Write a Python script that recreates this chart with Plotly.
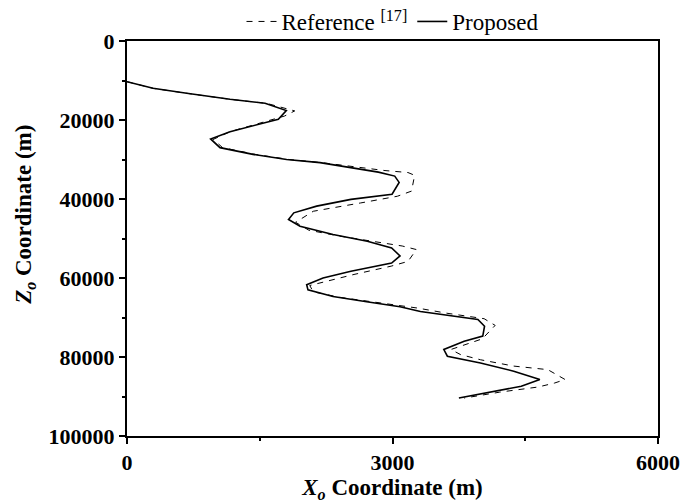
import plotly.graph_objects as go

# Proposed (solid) trajectory: X (m), Z (m)
prop_x = [0, 294, 675, 1164, 1560, 1800, 1710, 1164, 945, 1051, 1424, 1804, 2181,
          2530, 2840, 3025, 3075, 2995, 2530, 2143, 1885, 1825, 1955, 2328, 2715,
          2990, 3085, 2990, 2530, 2215, 2030, 2045, 2328, 2708, 3085, 3315, 3690,
          3965, 4040, 4020, 3810, 3580, 3620, 3994, 4370, 4665, 4455, 4070, 3750]
prop_z = [10300, 11980, 13240, 14760, 15780, 17600, 19800, 22960, 24800, 27000,
          28700, 30000, 30800, 32000, 33200, 34200, 35800, 38800, 40100, 41800,
          43500, 45200, 46900, 49000, 50700, 52400, 54400, 56200, 58300, 60000,
          61700, 63000, 64700, 66000, 67260, 68500, 69700, 70500, 72200, 74700,
          76000, 78100, 79800, 81500, 83600, 85700, 87400, 89100, 90400]

# Reference [17] (dashed) trajectory
ref_x = [0, 294, 675, 1164, 1580, 1895, 1780, 1164, 975, 1080, 1450, 1830, 2200,
         2610, 2915, 3175, 3250, 3215, 3055, 2640, 2105, 1905, 2055, 2405, 2815,
         3110, 3270, 3175, 2985, 2565, 2065, 2105, 2405, 2805, 3280, 3610, 4035,
         4160, 4015, 3660, 3770, 3995, 4370, 4755, 4950, 4830, 4645, 4210, 3810]
ref_z = [10300, 11980, 13240, 14760, 15800, 17700, 19000, 22960, 24900, 27000,
         28700, 30000, 30800, 32000, 32800, 33300, 34000, 38000, 39300, 41000,
         43100, 45900, 47900, 49400, 50900, 51900, 52800, 55800, 57000, 59100,
         61900, 63500, 64900, 66200, 67600, 68900, 70300, 72000, 75400, 78100,
         79400, 80700, 82300, 83200, 85700, 86600, 87600, 88900, 90400]

x_ticks = [0, 3000, 6000]
y_ticks = [0, 20000, 40000, 60000, 80000, 100000]

FONT = "Liberation Serif"
FS = 23

fig = go.Figure()
fig.add_trace(go.Scatter(
    x=ref_x, y=ref_z, mode="lines", name="Reference <sup>[17]</sup>",
    line=dict(color="black", width=1, dash="6px,6px")))
fig.add_trace(go.Scatter(
    x=prop_x, y=prop_z, mode="lines", name="Proposed",
    line=dict(color="black", width=1.6)))

axis_common = dict(
    showline=True, linecolor="black", linewidth=2, mirror=True,
    ticks="outside", ticklen=6, tickwidth=1.5, tickcolor="black",
    showgrid=False, zeroline=False,
    tickfont=dict(family=FONT, size=22, color="black", weight="bold"),
    minor=dict(ticks="outside", ticklen=3, tickwidth=1.5, tickcolor="black"),
    automargin=False,
)

fig.update_layout(
    width=683, height=504,
    margin=dict(l=127, r=25, t=41, b=68, autoexpand=False),
    paper_bgcolor="white", plot_bgcolor="white",
    font=dict(family=FONT, size=FS, color="black"),
    showlegend=True,
    legend=dict(orientation="h", x=0.5, xanchor="center",
                yref="container", y=1.0, yanchor="top",
                font=dict(family=FONT, size=23, color="black"),
                bgcolor="rgba(0,0,0,0)", tracegroupgap=0),
    xaxis=dict(range=[0, 6000], tickvals=x_ticks, ticktext=[str(v) for v in x_ticks],
               title=dict(text="<b><i>X</i><sub><i>o</i></sub> Coordinate (m)</b>",
                          font=dict(family=FONT, size=FS), standoff=1),
               **axis_common),
    yaxis=dict(range=[100000, 0], tickvals=y_ticks, ticktext=[str(v) for v in y_ticks],
               **axis_common),
)
fig.update_xaxes(minor=dict(dtick=1500))
fig.update_yaxes(minor=dict(dtick=10000))

# y-axis title, placed a little above the axis centre as in the reference
fig.add_annotation(
    text="<b><i>Z</i><sub><i>o</i></sub> Coordinate (m)</b>",
    textangle=-90, xref="paper", yref="paper",
    x=-0.192, y=0.56, xanchor="center", yanchor="middle", showarrow=False,
    font=dict(family=FONT, size=FS, color="black"))

fig.write_html("out.html")
